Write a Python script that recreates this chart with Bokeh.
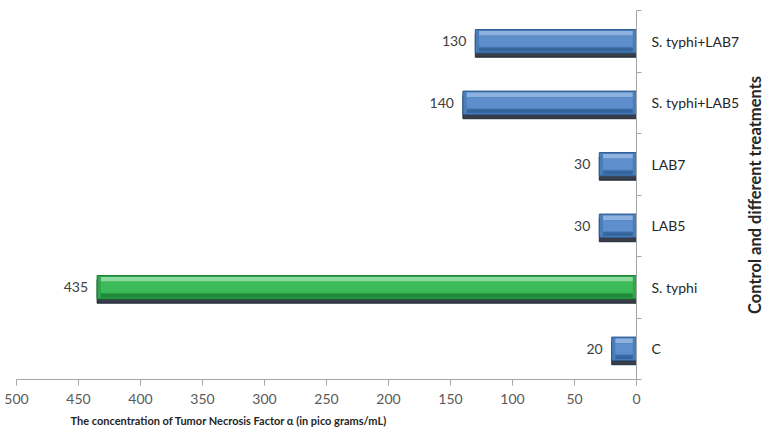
import math
from bokeh.plotting import figure
from bokeh.layouts import row
from bokeh.models import Range1d, FixedTicker, Title, ColumnDataSource
from bokeh.core.properties import value
from bokeh.embed import file_html
from bokeh.resources import INLINE

categories = ["C", "S. typhi", "LAB5", "LAB7", "S. typhi+LAB5", "S. typhi+LAB7"]
values = [20, 435, 30, 30, 140, 130]
x_ticks = [0, 50, 100, 150, 200, 250, 300, 350, 400, 450, 500]

FONT = "Lato"
BLUE = dict(outer="#4A7EBB", top="#8DB2DF", bottom="#2D5A8F", face="#5E8FCC")
GREEN = dict(outer="#2EA84A", top="#8AD99D", bottom="#1B7A33", face="#3DBA5A")

ypos = list(range(len(categories)))
pal = [GREEN if c == "S. typhi" else BLUE for c in categories]

src = ColumnDataSource(dict(
    y=ypos,
    v=values,
    ys=[y - 0.07 for y in ypos],
    yt=[y + 0.13 for y in ypos],
    yb=[y - 0.135 for y in ypos],
    lab=[str(v) for v in values],
    outer=[p_["outer"] for p_ in pal],
    top=[p_["top"] for p_ in pal],
    bottom=[p_["bottom"] for p_ in pal],
    face=[p_["face"] for p_ in pal],
    inl=[3 for _ in values],
    inr=[v - 3 for v in values],
))

p = figure(width=742, height=438, output_backend="svg", toolbar_location=None,
           x_range=Range1d(500, 0), y_range=Range1d(-0.5, len(categories) - 0.5),
           y_axis_location="right",
           min_border_left=16, min_border_right=105, min_border_top=10, min_border_bottom=59)
p.outline_line_color = None
p.grid.grid_line_color = None
p.background_fill_color = "white"

# shadow
p.hbar(y="ys", left=0, right="v", height=0.38, color="#141C2A", alpha=0.85, source=src)
# outer bar
p.hbar(y="y", left=0, right="v", height=0.38, fill_color="outer", line_color="bottom", line_width=1, source=src)
# top bevel
p.hbar(y="yt", left="inl", right="inr", height=0.07, fill_color="top", line_color=None, source=src)
# bottom bevel
p.hbar(y="yb", left="inl", right="inr", height=0.06, fill_color="bottom", line_color=None, alpha=0.7, source=src)
# face
p.hbar(y="y", left="inl", right="inr", height=0.18, fill_color="face", line_color=None, source=src)

# value labels
p.text(x="v", y="y", text="lab", source=src, x_offset=-9, text_align="right", text_baseline="middle",
       text_font=value(FONT), text_font_size="14px", text_color="#404040")

# x axis
xa = p.xaxis[0]
xa.ticker = FixedTicker(ticks=x_ticks)
xa.minor_tick_line_color = None
xa.axis_line_color = "#A6A6A6"
xa.major_tick_line_color = "#A6A6A6"
xa.major_tick_out = 6
xa.major_tick_in = 0
xa.major_label_text_font = FONT
xa.major_label_text_font_size = "14px"
xa.major_label_text_color = "#595959"
xa.major_label_standoff = 8

# y axis (right)
ya = p.yaxis[0]
ya.ticker = FixedTicker(ticks=ypos, minor_ticks=[y - 0.5 for y in ypos] + [len(categories) - 0.5])
ya.major_label_overrides = {i: c for i, c in enumerate(categories)}
ya.major_tick_line_color = None
ya.minor_tick_line_color = "#A6A6A6"
ya.minor_tick_out = 5
ya.minor_tick_in = 0
ya.axis_line_color = "#A6A6A6"
ya.major_label_text_font = FONT
ya.major_label_text_font_size = "14px"
ya.major_label_text_color = "#262626"
ya.major_label_standoff = 9

p.add_layout(Title(text="The concentration of Tumor Necrosis Factor α (in pico grams/mL)",
                   align="left", offset=54, text_font=FONT, text_font_style="bold",
                   text_font_size="11px", text_color="#262626"), "below")

# narrow side figure carrying the vertical category-axis title (reads bottom-to-top)
p2 = figure(width=28, height=438, output_backend="svg", toolbar_location=None,
            min_border_left=4, min_border_right=0, min_border_top=10, min_border_bottom=59)
p2.outline_line_color = None
p2.axis.visible = False
p2.grid.visible = False
p2.add_layout(Title(text="Control and different treatments", align="center", standoff=0,
                    text_font=FONT, text_font_style="bold", text_font_size="16.5px",
                    text_color="#262626"), "left")

open("out.html", "w").write(file_html(row(p, p2), INLINE))
